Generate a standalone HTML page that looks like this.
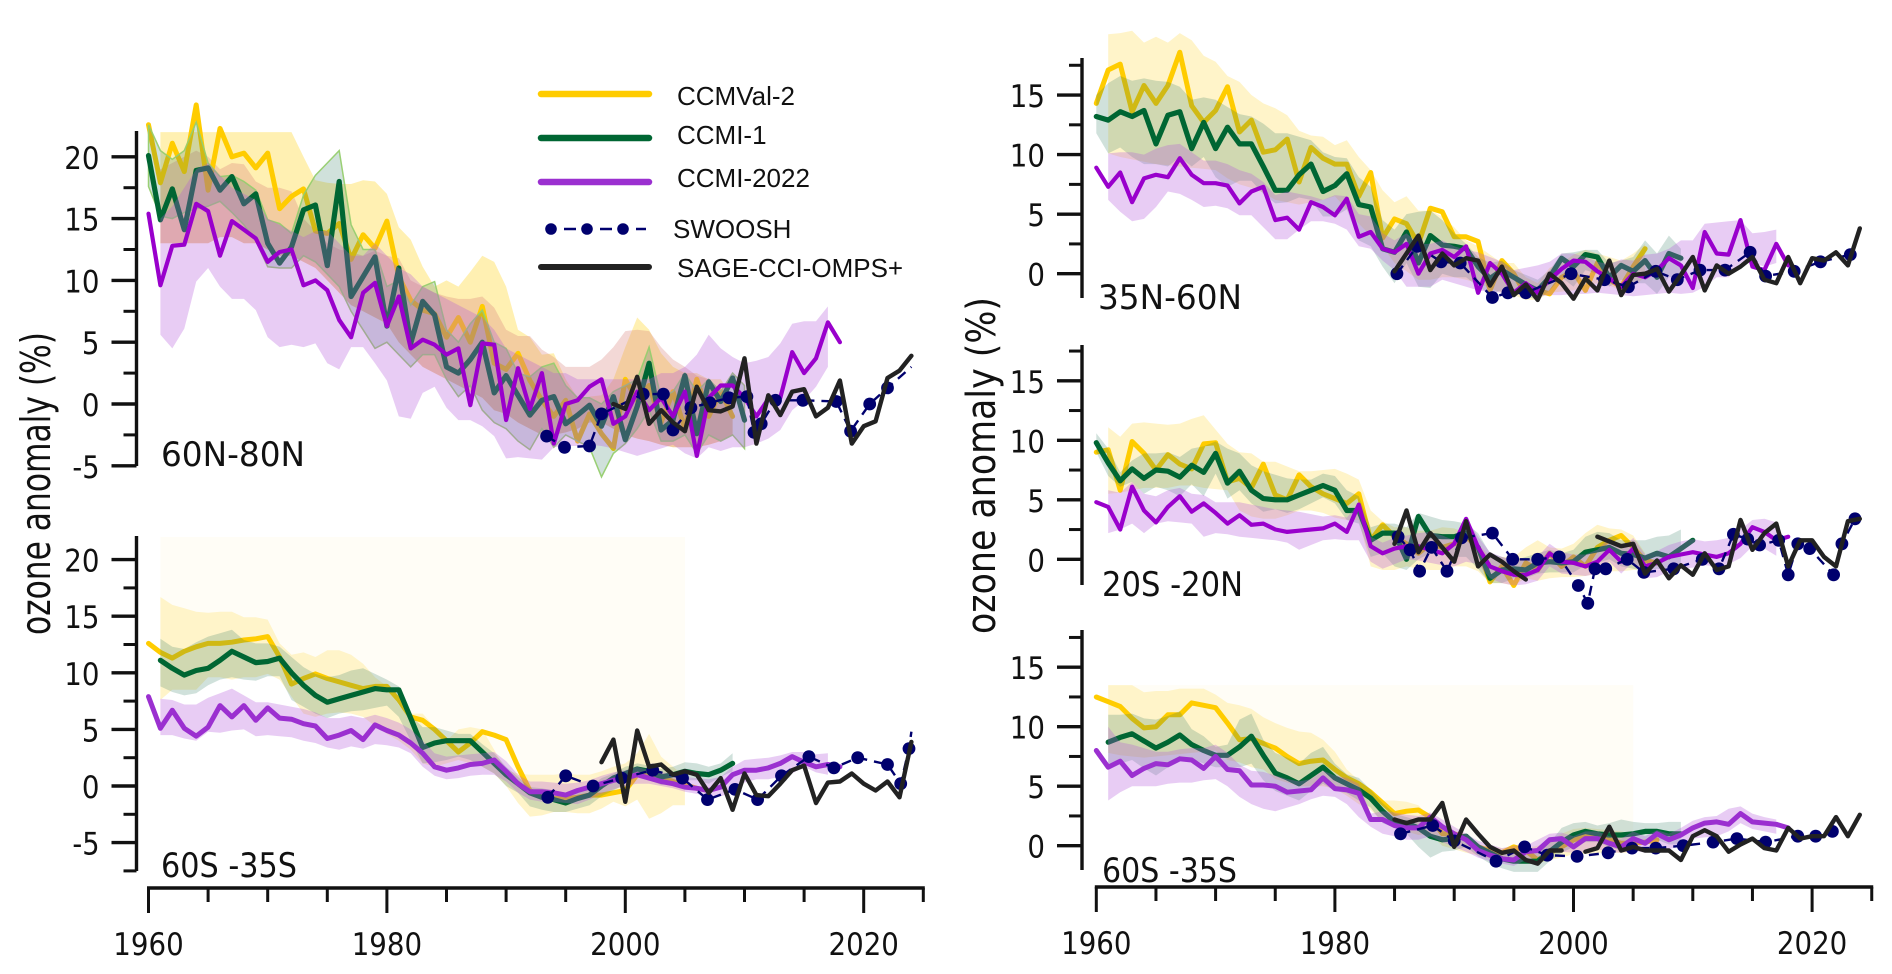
<!DOCTYPE html>
<html lang="en">
<head>
<meta charset="utf-8">
<title>Ozone anomaly time series</title>
<style>
html,body{margin:0;padding:0;background:#fff;}
svg{display:block;}
text{font-family:"Liberation Sans",sans-serif;fill:#111;}
text.dv{font-family:"DejaVu Sans",sans-serif;}
</style>
</head>
<body>
<svg id="figure" xmlns="http://www.w3.org/2000/svg" width="1892" height="974" viewBox="0 0 1892 974">
  <rect width="1892" height="974" fill="#fff"/>
  <g id="charts"></g>
  <text class="dv" transform="translate(50,635) rotate(-90)" font-size="41" textLength="303" lengthAdjust="spacingAndGlyphs">ozone anomaly (%)</text>
  <text class="dv" transform="translate(995,634) rotate(-90)" font-size="40" textLength="337" lengthAdjust="spacingAndGlyphs">ozone anomaly (%)</text>
  <g>
    <g>
      <line x1="541" x2="649" y1="94" y2="94" stroke="#ffcc00" stroke-width="6.5" stroke-linecap="round"/>
      <text x="677" y="105" font-size="26">CCMVal-2</text>
    </g>
    <g>
      <line x1="541" x2="649" y1="138" y2="138" stroke="#006633" stroke-width="6.5" stroke-linecap="round"/>
      <text x="677" y="144" font-size="26">CCMI-1</text>
    </g>
    <g>
      <line x1="541" x2="649" y1="182" y2="182" stroke="#9b30d0" stroke-width="6.5" stroke-linecap="round"/>
      <text x="677" y="187" font-size="26">CCMI-2022</text>
    </g>
    <g>
      <circle cx="551" cy="229" r="5.8" fill="#00006e"/>
      <circle cx="587" cy="229" r="5.8" fill="#00006e"/>
      <circle cx="623" cy="229" r="5.8" fill="#00006e"/>
      <line x1="564" x2="576" y1="229" y2="229" stroke="#00006e" stroke-width="2.5"/>
      <line x1="600" x2="612" y1="229" y2="229" stroke="#00006e" stroke-width="2.5"/>
      <line x1="636" x2="646" y1="229" y2="229" stroke="#00006e" stroke-width="2.5"/>
      <text x="673" y="238" font-size="26">SWOOSH</text>
    </g>
    <g>
      <line x1="541" x2="649" y1="267" y2="267" stroke="#222" stroke-width="6" stroke-linecap="round"/>
      <text x="677" y="277" font-size="26">SAGE-CCI-OMPS+</text>
    </g>
  </g>
</svg>
<script>
// ---------- shared tick data ----------
const xTickLabels = [1960, 1980, 2000, 2020];
const yTickLabelsAB = [-5, 0, 5, 10, 15, 20];
const yTickLabelsCDE = [0, 5, 10, 15];

// ---------- 60N-80N ----------
const aYellow = [22.6,17.9,21.1,18.8,24.2,17.3,22.3,20,20.3,19.1,20.3,15.8,16.8,17.4,14,13.8,14.6,11.7,13.7,12.6,14.8,10.3,8.4,7.6,7.3,5.4,7,5,7.9,3.3,2.8,4.1,1.9,.3,-1,.3,-3,-.8,-2.4,-3.6,2,.3,1.5,-1.5,1,-2,2,-1,1,-1];
const aYellowHi = [22,22,22,22,22,22,22,22,22,22,22,22,20,18.1,17.9,17.8,17.8,18.1,18,17,14.3,13.3,11.1,9.5,10,9.5,10.7,12,11.5,9.5,6,5.4,4,4.1,2,.5,.6,.7,2,4.6,7,6,4.1,3,2.5,2.5,2,2,.6];
const aPeachHi = [19,19.5,20,20.5,20,19,19.5,19.4,18,17.5,17.5,17.2,15,14,13,12.5,12.3,12,12.4,12,11.8,10,9.5,9,8.7,8.5,8.5,8.7,7.8,6,5.5,5.5,4.4,3.8,3,3,3,3.6,4.6,5.9,6,5.9,4.6,3.6,3,2.3,2,1.1,.3];
const aPeachLo = [13,13,13,13,13,13.5,13.5,13,13,12.5,12,12,11.5,11,10,9,8,7.5,7,6.5,5,4,3,2.5,2,1.5,1,.5,-.5,-.8,-1.5,-2,-2.5,-2.5,-2.3,-2,-1.5,-1.5,-2,-2.5,-2.8,-3,-3.3,-3.5,-3.5,-3.5,-3.3,-3,-2.5];
const aGreen = [20.1,14.9,17.4,14.1,18.9,19.1,17.3,18.4,16.2,17,13,11.4,12.7,15.7,16.1,11.2,18,8.7,10.3,11.9,6.3,11,4.9,8.3,7.2,3,2.5,3.6,5,.9,2.3,.7,-.9,.3,.6,-1.6,-.9,-.1,-1.8,.6,-2.9,-.2,3.3,-2.1,-1.3,2.3,-2.4,1.8,.2,2.1,-1.3];
const aGreenHi = [22.6,20.5,19.8,20.5,22.8,19.5,18.4,18.5,18,17.3,14.9,14.6,13.8,16.9,18.5,19.5,20.5,14.5,12.5,12.5,9.5,10,8,9.5,9.9,6,5,6.5,7.6,5,4.5,2.5,2.2,3,3.3,1.5,.5,.5,0,1,1.5,2,4.6,.5,1,2.5,1,2,1,2.5,1.5];
const aGreenLo = [17.6,15.2,15,15.5,15.8,16,16.4,15.5,14.5,13.2,11.1,11,11,12,11.5,10.5,9.5,7.5,6,4.5,5,4,3,4,4,2,.6,1.5,-.5,-1.5,-2,-3,-3.7,-2,-3.5,-2.5,-3,-3.5,-5.9,-4,-3.2,-2,-.5,-3,-3,-2.5,-4,-2.5,-3,-2.5,-3.6];
const aPurple = [15.4,9.6,12.8,12.9,16.2,15.6,12,14.8,14.1,13.4,11.5,12.3,12.5,9.6,10,9.2,6.8,5.4,9,9.8,6.3,8.7,4.5,5.2,4.8,4,4.5,-.1,4.9,4.8,-1.3,2.9,-.4,2.5,-3.2,0,.3,1.4,2,-1.6,-1,1,-.5,.5,-1,1,-4.2,.5,1.5,1.5,.5,-1,.4,.5,4.2,2.5,3.7,6.6,5];
const aPurpleHi = [15,16,17.5,19,19.5,18.5,17.5,17,16.5,15,14.5,14,13.5,14,14,13,12,12,13,12,11,10.5,9.5,9,8.5,8,7.5,7,6,4.5,4,3.5,3,2.5,2.5,2,2,2,2,2,2,2,2.5,2.5,3,4,5.6,4.5,3.8,3.3,3.5,3.8,4.9,6.5,6.7,6.7,7.9];
const aPurpleLo = [5.6,4.5,6.1,9.9,11,9.5,8.5,8.5,7.6,5.4,4.6,4.8,4.6,4.9,3.3,2.8,4.6,4.6,3.3,1.9,-1,-1.2,.9,1.4,-.3,-1.3,-1.3,-1.8,-2.6,-4.4,-4.3,-4.4,-4.5,-3.5,-3.4,-3.4,-3.3,-3.4,-3.6,-3.9,-4.2,-3.9,-3.6,-3.3,-4,-4.4,-3.5,-3.8,-3.5,-3.5,-3.2,-2.8,-2.1,-.5,.3,1.4,3];
const aSwooshYears = [1993.4,1994.9,1997,1998,2001.5,2003.2,2004,2005.5,2007.1,2008.7,2010.2,2010.8,2011.4,2012.6,2014.9,2017.7,2018.9,2020.5,2022,2024];
const aSwoosh = [-2.6,-3.5,-3.4,-.8,.8,.8,-2.1,-.3,.1,.5,.6,-2.3,-1.6,.3,.3,.2,-2.2,0,1.3,3];
const aSage = [0,-.4,2.2,-1.6,-.5,-1.5,-2.2,1.4,-.5,-.6,-.2,3.7,-3.2,.7,-.9,1,1.2,-1,-.3,1.9,-3.2,-1.8,-1.4,2.1,2.7,3.9];

// ---------- 60S-35S (left) ----------
const bYellow = [12.6,11.8,11.3,11.9,12.3,12.6,12.6,12.7,12.9,13,13.2,11.4,9,9.5,9.9,9.5,9.2,8.9,8.6,8.8,8.8,7.6,6.1,5.8,5,4,3,3.8,4.8,4.5,4.1,1.7,-.4,-.9,-1.1,-1.1,-1,-.8,-.8,-.6,-.4,1,1,.8,.4,.1,-.2,-.4];
const bYellowHi = [16.7,16,15.7,15.4,15.3,15.4,15.4,14.9,14.9,14.7,12.6,11.6,11.8,11.4,12,12,11.6,10.8,9.6,8.8,7.1,6.4,6.4,5.2,4,5,5.2,5,3.2,1.4,1.1,1,1,1,1.1,1,1,1.3,1.7,2,2.9,4.6,2.6,1.7,.8];
const bYellowLo = [7.6,8.5,8.5,8.5,9.6,9.6,9.4,9.6,9.6,9.9,9.4,7.9,6.4,6.1,6.4,6.5,6.4,6.1,5.3,4.6,4,3.2,2,1.7,2,2.3,2,1.7,1.1,0,-1.5,-2.7,-2.6,-2.3,-2.3,-2.4,-2.4,-2,-1.4,-1.8,-1.2,-2.9,-2.4,-1.7,-1.7];
const bGreen = [11.1,10.4,9.8,10.2,10.4,11.1,11.9,11.4,10.9,11,11.3,10,8.9,8,7.4,7.7,8,8.3,8.6,8.5,8.5,6,3.4,3.8,4,4,4,3,2,1,.2,-.6,-1,-1.2,-1.5,-1.1,-.8,0,.7,1.1,1.5,1.3,.8,1,1.3,1.1,1,1.4,2];
const bGreenHi = [13,12.3,12.1,12.7,13.2,13.5,13.8,12.9,12.6,12.6,12.3,11.4,10.5,9.9,9.6,9.8,10.2,10.4,9.9,9.4,8.8,6.2,5.2,5.2,4.9,4.6,4.6,3.7,2.9,1.7,.8,-.1,-.2,-.4,-.6,-.4,-.1,.7,1.1,1.7,2,1.8,1.5,1.7,2.1,2,1.7,2,2.9];
const bGreenLo = [8.8,8.3,8,8.2,8.9,9.4,9.6,9.4,9.3,9.7,9.7,7.6,7,6.4,6,6.4,6.6,6.7,6.9,7.1,6.1,4,2,2.1,2.3,2.6,2.3,1.7,1.1,0,-.6,-1.8,-2.1,-2.3,-2.3,-2,-1.7,-.9,-.4,.2,.8,.5,.1,.2,.5,.5,.2,.8,1.3];
const bPurple = [7.9,5.1,6.7,5.1,4.4,5.2,7.1,6.1,7.1,5.8,6.9,6,5.9,5.5,5.3,4.2,4.5,4.9,4.1,5.4,4.9,4.5,3.8,2.9,1.7,1.4,1.6,1.9,2,2.3,1.3,.2,-.5,-.5,-.6,-.8,-.4,-.1,.2,.5,.7,1,.7,.4,.2,-.1,-.2,-.4,-.1,1,1.4,1.4,1.6,2,2.6,2.1,1.7,1.9,1.7];
const bPurpleHi = [7.7,7.6,7.2,7.2,7.8,8.2,8.6,8,7.4,7.4,7.2,7,6.8,6.5,6,6,6.2,6,6.3,6,5.6,5,4,2.9,2.6,2.7,2.8,2.9,3,2.2,1,.4,.4,.3,.2,.3,.5,.9,1.2,1.4,1.7,1.4,1.2,1.1,.8,.7,.6,.8,1.7,2.3,2.4,2.5,2.7,3,3,2.8,2.9];
const bPurpleLo = [4.5,4.5,4.2,4,4.8,4.7,4.9,5,4.4,4.5,4.4,4.3,4,3.8,3.4,3.2,3.5,3.3,3.7,3.6,3.4,2.9,1.7,.9,.6,.7,.9,1,1,.4,-.6,-1.2,-1.4,-1.4,-1.5,-1.6,-1.2,-.7,-.3,0,.2,.2,0,-.2,-.5,-.7,-.9,-.9,-.6,.3,.6,.6,.8,1.1,1.7,1.2,1];
const bSwooshYears = [1993.5,1995,1997.3,1999.7,2002.3,2004.8,2006.9,2009.2,2011.1,2013.1,2015.4,2017.5,2019.5,2022,2023.1,2023.8,2024];
const bSwoosh = [-1,.9,0,.7,1.4,.7,-1.2,-.3,-1.2,.9,2.6,1.6,2.5,1.9,.2,3.3,4.8];
const bSage = [2.1,4.1,-1.4,4.9,1.7,1.9,1,1.3,1,-.6,.7,-2.1,1.1,-.8,-.9,.2,1.4,1.8,-1.5,.3,.4,1.1,.2,-.4,.4,-1,3.9];

// ---------- 35N-60N ----------
const cYellow = [14.3,17.1,17.6,13.6,15.8,14.3,15.8,18.6,14.1,12.7,13.7,15.7,11.9,12.9,10.2,10.4,11.3,7.7,10.6,9.7,9.2,9.2,6.5,8.5,3,4.6,4.2,2.5,5.5,5.2,3.1,3.1,2.7,-1.4,1.1,0,-1.8,-1.4,-1.7,-.3,.2,-1.4,.9,-.5,-1.1,.6,2.1];
const cYellowHi = [20.1,20.2,20.4,19.4,19.9,19.4,20.2,19.6,18.3,17.8,16.6,16.1,15,14.3,13.9,13.3,12,11.6,11.5,10.8,11.2,9.8,8.7,7,6,6.5,5.3,5.3,4.8,3.9,2.8,2.3,1.6,.9,.9,-.3,-.8,.5,.9,1.6,2,1.7,1.4,1.1,1.7,2.5];
const cYellowLo = [10.1,9.8,9.6,9.4,9.2,9.1,9,8.9,8.8,8.7,8,7.5,7.2,6.8,6.2,6,5.8,6,6.2,6.5,5.4,4.2,3.2,2.3,.9,.2,-.5,-.5,-.3,-.3,-.5,-.8,-1.2,-1.6,-1.8,-2.2,-2.2,-1.6,-1.5,-1.4,-1,-.8,-1,-1.4,-1,-.3];
const cGreen = [13.2,12.9,13.6,13.2,13.7,10.9,13.3,13.6,10.5,12.7,10.5,12.3,10.9,10.9,9,7,7,8.3,9.2,6.9,7.4,8.4,5.8,5.6,2.1,1.8,3.5,.9,3.2,2.4,2.3,2.1,.6,-.4,.3,-.3,-.9,-1.4,-.3,1.3,.6,1.6,1.4,-.3,.7,.2,1.1,-.3,1.7,1.3];
const cGreenHi = [15,16,16.6,16.2,16.4,16.2,16.1,15.7,14.6,14.8,14.6,14,13.4,13.2,12.6,11.8,11.8,11.5,11.2,10.2,9.8,9.7,8.1,7.3,4.5,3.7,5,5.2,5.3,4.5,3.4,2.5,1.4,.9,1.1,.3,-.1,-.5,.3,1.7,1.8,2,2,.9,1.1,1.4,2.8,1.7,3.2,2.1];
const cGreenLo = [11.8,10.1,10.6,9.8,9.2,9.2,9,9.8,9,9.8,8.1,7.3,7.8,7.8,6.7,5.9,6,6.4,6.2,4.8,4.8,5.4,2.8,2.3,.6,-.8,.9,-1.1,-1.2,0,-.3,-.3,-1.1,-1.7,-1.4,-1.7,-1.9,-2.2,-1.4,-.3,-1.1,.3,0,-1.1,-.5,-.8,-.8,-1.7,-.3,-.3];
const cPurple = [8.9,7.3,8.5,6,8,8.3,8.1,9.7,8.3,7.6,7.6,7.4,5.9,6.9,7.3,4.5,4.7,3.7,6,5.6,4.9,6.3,3.1,3.5,2.1,1.8,2.5,0,1.7,2,1.4,2.3,-1.6,.9,0,-1.6,-.8,-1.6,-.5,.4,1.1,1,.2,-.4,-1.1,0,-.3,.3,1.3,.7,-1.2,3.5,1.7,1.6,4.5,.6,.3,2.5,.7];
const cPurpleHi = [10.1,10.2,10.2,10,10.5,10.8,10.9,10.2,9.5,9.5,9.2,8.7,8.4,7.7,6.6,6.9,6.7,6.5,6.2,6.6,6.5,5,4.8,3.4,2.8,3.4,2.5,2.5,2.8,2.3,2,1.8,1.4,1,.3,.5,.7,1,1.7,1.7,1.4,1,.8,1.2,1.1,1.6,1.7,2.1,2.8,2.8,4.2,4.3,4.4,4.5,3.4,3.5,3.7];
const cPurpleLo = [6.2,5.2,4.4,4.6,5.6,6.9,6.7,6.2,5.6,5.7,5.5,4.9,4.9,3.9,2.9,2.9,3.7,4.4,4.4,4.2,3.7,2.3,2.1,1.1,.3,-1.1,-1.1,-1.1,-.5,-.8,-1.1,-1.4,-1.5,-1.6,-1.7,-1.8,-1.9,-1.8,-1.8,-1.7,-1.7,-1.6,-1.7,-1.8,-1.9,-1.8,-1.7,-1.6,-1.7,-1.6,-1.1,-.3,-.3,.9,.9,.6,.9];
const cSwooshYears = [1985.2,1986.9,1988.9,1990.5,1993.2,1994.5,1996,1999.8,2002.6,2004.6,2006.9,2008.7,2010.6,2012.7,2014.8,2016.1,2018.5,2020.7,2023.2];
const cSwoosh = [0,2.3,1,.9,-2,-1.6,-1.6,0,-.5,-1.1,.2,-.5,.3,.3,1.8,-.2,.2,1,1.6];
const cSage = [.2,1.7,3.2,.3,1.7,.7,1.3,1.1,-1,.6,-1.8,-.9,-2.2,0,-.8,-2.1,-.4,-1.4,1.1,-1.8,-.1,0,.4,-1.5,-.1,1.4,-1.4,.7,0,.6,1.4,-.5,-.8,1.4,-.8,1.3,1.1,1.8,.7,3.8];

// ---------- 20S-20N ----------
const dYellow = [9,9.2,5.8,9.9,8.9,7.5,8.8,8,7.6,9.7,9.8,6.5,6.8,6,8,5.4,5,7.1,6.1,5.5,5.1,4.7,5.5,1.6,2.9,1.9,1.3,.5,1.3,1,1.3,1.9,1,-1.9,-.6,-2.2,-.3,-.9,.5,-.6,.2,-.6,1,1.6,2,1,-.1,-.3];
const dYellowHi = [11.1,10.3,11.4,11.5,11.4,11.3,11.4,11.8,12.1,10.9,9.7,9,8.9,8.2,8.2,7.8,7.4,7.4,7.5,7.6,7.2,6.7,4.1,3.2,2.7,2.7,2.4,2.4,2.7,2.6,2.2,1.3,.2,.2,.2,1,1.6,1,.9,1.3,2.2,2.9,2.6,2.5,2,.5];
const dYellowLo = [5.5,5.6,5.8,6,6,6,6.2,6.2,6,5.9,5.8,4.1,3.6,3.4,3.4,3.7,4.1,4.1,3.9,3.5,3.3,3.3,-.6,-.9,-.9,-.6,-.8,-.9,-.9,-.6,-.6,-1,-2,-2,-2.2,-1.6,-1.8,-1.6,-1.5,-1.5,-1.4,-1.2,-1,-1,-.9,-.8];
const dGreen = [9.8,8.1,6.6,7.6,6.8,7.5,7.4,6.9,7.9,7.3,8.9,6.4,7.4,5.8,5.1,5,5,5.4,5.8,6.2,5.8,4.1,4.1,1.6,2.2,2.2,0,3.6,2,1.9,1.9,2.2,1,-1.6,-.9,-.8,-.9,-.3,-.2,-.3,-.2,.6,.8,1,.5,.4,.1,.5,.2,.9,1.6];
const dGreenHi = [10.6,9.3,7.3,8.3,8.9,8.9,9,8.6,9.3,9.5,9.9,9.3,8.9,7.9,7.4,7.1,6.8,6.7,6.7,7.2,7,5.8,5.3,2.7,3,3,2.7,3.9,3.6,3.3,3.2,3,2.2,.5,.2,-.1,.2,.5,.8,.5,.8,1.9,2.3,2.2,1.6,1.6,1.6,1.9,2,2.5];
const dGreenLo = [9,7,6.1,6.5,5.5,6.1,5.8,5.3,6.3,5.3,7.2,5.1,5.8,4.7,4,4.2,3.9,4.2,4.7,5.2,4.7,3.3,3,.2,.5,-.6,-.9,0,.5,.5,.2,.2,-.8,-2,-2,-1.6,-1.6,-1.2,-1.1,-1.1,-1.1,-.5,-.3,0,-.6,-.8,-1,-.8,-.9,-.3];
const dPurple = [4.8,4.4,2.5,6.1,4.1,3.1,4.4,5.3,4,4.7,3.9,3,3.7,2.9,3,2.5,2.3,2.4,2.5,2.6,3,2.3,4.6,1.1,.5,.9,1.1,1.1,.8,.5,1.3,3.4,1,-.6,-1,-1.3,-1.3,-.9,.5,-.2,-.3,-.6,-.2,.8,-.2,.9,-.6,-.3,.2,.4,.6,.4,.2,.5,1.3,2.7,2.3,1.6,1.9];
const dPurpleHi = [5.8,5.6,6.5,5.5,5.3,5.8,6,5.5,5.4,4.8,4.8,4.8,4.6,4.4,4.2,4.1,4,3.8,3.6,3.7,3.5,4.7,1.9,1.4,1.8,2,2.2,2.3,2,1.6,3.5,1.9,.6,.2,-.1,-.1,.2,1.3,.6,.4,.4,.8,1.8,.8,1.8,.4,.7,1.2,1.5,1.7,1.5,1.6,1.8,2.5,3.3,3.4,3.1];
const dPurpleLo = [2.2,2.5,3,2.2,3,3.2,3.1,3,1.9,2.2,2.1,1.9,1.8,1.7,1.6,1.4,.8,1.2,1.6,1.7,1.6,1.6,-.2,-.8,-.4,0,-.1,-.3,-.5,-.6,-.2,-.4,-1.6,-2,-2.2,-2.1,-1.8,-.6,-1.2,-1.3,-1.4,-1.2,-.2,-1.2,-.2,-1.6,-1.5,-1,-.8,-.7,-.5,-.6,-.4,.1,1.1,.9,.3];
const dSwooshYears = [1985.3,1986.3,1987.1,1988.1,1989.4,1990.6,1993.2,1994.9,1997,1998.8,2000.4,2001.2,2001.8,2002.7,2004.5,2005.9,2008.4,2010.8,2012.2,2013.4,2014.6,2015.6,2017.2,2018,2018.8,2019.8,2021.8,2022.5,2023.6];
const dSwoosh = [1.9,.8,-1,1,-1,1.8,2.2,0,0,.2,-2.2,-3.7,-.8,-.8,0,-1.1,-.8,0,-.8,2.1,1.7,1.2,1.6,-1.3,1.3,.9,-1.3,1.3,3.4];
const dSage = [1.3,4.1,.6,2.2,1,-.2,3.2,-.6,.4,-.2,-1,-1.7,null,null,null,null,null,1.9,1.5,1.1,1.3,-1.2,-.1,-1.6,-.5,-1.3,.5,-.9,-.6,3.3,.8,2.2,3,-.6,1.6,1.6,.2,-.6,3.2,3.4];

// ---------- 60S-35S (right) ----------
const eYellow = [12.5,12.1,11.7,10.7,9.9,10,11,11,12,11.8,11.6,10.3,8.9,9,8.6,8.2,7.5,6.9,7.1,7.2,6.4,5.7,5.2,4.5,3.6,2.7,2.9,3,2.4,1,1,.7,-.1,-.4,-.6,-.1,-.4,-1.2,-.6,-.1,.5,.8,.8,.5,.2,.2,.3,.5];
const eYellowHi = [13.5,13.5,13.5,12.9,13,13,13.2,13.2,13.2,12.7,12,11.8,11.5,10.8,10.3,9.9,9.6,9.5,8.9,7.9,6.4,5.5,4.7,3.8,3.8,3.7,3.4,2.4,1.6,1,.3,0,-.1,-.2,-.1,-.2,0,.4,1,1.4,1.5,1.4,1.3,1.2,1];
const eYellowLo = [7.8,7.6,7.5,7.4,7.5,7.6,7.7,7.8,7.9,8,7.2,7,6.6,6.4,5.6,5.3,5,5,5,4.8,4.2,3.5,3,2,1.9,1.2,.9,1,0,-.3,-.6,-.8,-1.1,-1.2,-1,-1.2,-1.5,-1.2,-1,-.7,-.7,-.6,-.6,-.6,-.6];
const eGreen = [8.7,9.1,9.4,8.8,8.2,8.7,9.3,8.5,8,7.6,7.6,8.3,9.2,7.6,6.1,5.7,5.2,5.9,6.6,5.7,5.2,4.7,4,2.9,2,1.9,1.5,.8,.5,.6,.8,-.1,-.6,-1.1,-1.3,-1.3,-1.3,-.5,.3,.9,1.2,1,.9,.9,1,1.2,1.2,1,1];
const eGreenHi = [11,11,11.1,10.7,10.6,10.9,11.3,9.8,9.2,8.3,8.5,10.6,11.1,8.9,7.8,7.4,6.9,7.8,8.3,6.9,6,5.7,4.7,3.6,2.7,2.4,2.1,1.9,1.3,1,1,.2,-.4,-.4,-.6,-.4,-.4,.2,1.5,1.9,2,1.7,1.9,2.2,2,1.9,1.9,2,2];
const eGreenLo = [6.9,6.9,7.2,6.5,5.9,6.6,7.2,7.3,6.9,6.6,6.6,6.6,6.9,5.5,4.6,4.2,3.8,4.6,5.2,4.6,4.4,3.8,3.2,1.9,1.5,1,-.1,-1,-.5,-.4,-.1,-.9,-1.5,-1.9,-2.2,-2.2,-2.2,-1.3,-.6,-.1,.3,.3,-.1,-.4,.1,.3,.5,.1,.1];
const ePurple = [8,6.6,7.1,5.9,6.5,6.9,6.8,7.3,7.2,6.5,7.5,6.4,6.3,5.1,5.1,5,4.5,4.6,4.7,5.7,4.8,4.7,4.4,2.2,2.2,1.7,1.5,1.5,2.4,1.6,1,.5,-.4,-.8,-1.1,-1.2,-.5,-.4,.5,.6,-.1,.6,.6,.2,-.1,.6,.2,1,.5,.9,1.5,1.9,2,1.8,2.7,2,1.9,1.8,1.5];
const ePurpleHi = [10,8.7,8.5,8.2,7.9,7.9,8.1,8.2,8.2,8.5,7.8,6.8,6.3,6.2,5.9,5.6,5.4,5.6,6.3,5.9,5.7,5.2,2.7,2.9,2.8,2.6,2.5,2.8,2.2,1.6,1,.4,.1,-.2,0,0,.5,1,1.1,.8,1.2,1.2,.8,.6,1.2,.8,1.3,1,1.5,2.1,2.4,2.5,3.1,3.3,2.7,2.4,2.2];
const ePurpleLo = [3.8,4.5,5,5,5,5.2,5.3,5.3,5.5,5.6,5,4.1,3.5,3.1,2.9,3.2,3.5,3.9,4.2,4.1,3.5,2.4,1.6,1,.8,.5,.5,.8,.3,-.1,-.5,-1,-1.3,-1.5,-1.7,-1.2,-1,-.6,-.5,-.6,-.5,-.3,-.5,-.6,-.4,-.6,-.3,-.3,0,.6,.7,.8,1.2,1.9,1.4,1.2,1];
const eSwooshYears = [1985.5,1988.2,1990,1993.5,1995.9,1997.8,2000.3,2002.9,2004.9,2006.9,2009.2,2011.7,2013.7,2016.1,2018.8,2020.3,2021.7];
const eSwoosh = [1,1.7,.4,-1.3,-.1,-.8,-.9,-.6,-.2,-.2,0,.3,.6,.3,.8,.8,1.2];
const eSage = [2.2,1.9,2.2,2.2,3.6,-.1,2.2,1,-.1,-.6,-.4,-1.2,-1.5,-.4,-.4,null,-.5,-.2,1.6,-.4,-.1,-.4,-.4,-.4,-1.2,.8,1.3,.8,-.5,.1,.6,-.2,-.4,1.5,.6,.8,.8,2.4,.8,2.6];

// ---------- rendering ----------
const NS = 'http://www.w3.org/2000/svg';
const COLORS = {yellow:'#ffcc00', green:'#006633', navy:'#00006e', black:'#222222'};
const root = document.getElementById('charts');

function mk(parent, tag, attrs) {
  const el = document.createElementNS(NS, tag);
  Object.keys(attrs).forEach(function (k) { el.setAttribute(k, attrs[k]); });
  parent.appendChild(el);
  return el;
}
function linePath(startYear, values, xs, ys) {
  let d = '', pen = false;
  values.forEach(function (v, i) {
    if (v === null) { pen = false; return; }
    d += (pen ? 'L' : 'M') + xs(startYear + i).toFixed(1) + ' ' + ys(v).toFixed(1);
    pen = true;
  });
  return d;
}
function drawBand(g, startYear, hi, lo, xs, ys, fill, stroke, name) {
  const top = hi.map(function (v, i) { return xs(startYear + i).toFixed(1) + ',' + ys(v).toFixed(1); });
  const bot = lo.map(function (v, i) { return xs(startYear + i).toFixed(1) + ',' + ys(v).toFixed(1); }).reverse();
  const el = mk(g, 'polygon', {points: top.concat(bot).join(' '), fill: fill, stroke: stroke || 'none', 'stroke-width': stroke ? 1.5 : 0});
  
  
}
function drawPale(g, startYear, hi, topValue, xs, ys, name) {
  const top = hi.map(function (v, i) { return xs(startYear + i).toFixed(1) + ',' + ys(topValue).toFixed(1); });
  const bot = hi.map(function (v, i) { return xs(startYear + i).toFixed(1) + ',' + ys(v).toFixed(1); }).reverse();
  const el = mk(g, 'polygon', {points: top.concat(bot).join(' '), fill: '#fffdf6'});
  
  
}
function drawLine(g, startYear, values, xs, ys, color, width, name) {
  const el = mk(g, 'path', {d: linePath(startYear, values, xs, ys), fill: 'none', stroke: color, 'stroke-width': width, 'stroke-linejoin': 'round', 'stroke-linecap': 'round'});
  
  
}
function drawSwoosh(g, years, values, xs, ys, openTail) {
  let d = '';
  years.forEach(function (yr, i) { d += (i ? 'L' : 'M') + xs(yr).toFixed(1) + ' ' + ys(values[i]).toFixed(1); });
  const ln = mk(g, 'path', {d: d, fill: 'none', stroke: COLORS.navy, 'stroke-width': 2.4, 'stroke-dasharray': '10 7'});
  
  
  const n = openTail ? years.length - 1 : years.length;
  for (let i = 0; i < n; i++) {
    const c = mk(g, 'circle', {cx: xs(years[i]).toFixed(1), cy: ys(values[i]).toFixed(1), r: 6.4, fill: COLORS.navy});
    
    
  }
}
function labelWidth(str) {
  const neg = str.charAt(0) === '-';
  return (neg ? str.length - 1 : str.length) * 17.6 + (neg ? 9.5 : 0);
}
function drawYAxis(g, p) {
  const axis = mk(g, 'line', {x1: p.axisX, x2: p.axisX, y1: p.axisTop, y2: p.axisBottom, stroke: '#111', 'stroke-width': 3.4});
  
  
  p.minor.forEach(function (v) {
    const t = mk(g, 'line', {x1: p.axisX - 13, x2: p.axisX, y1: p.ys(v), y2: p.ys(v), stroke: '#111', 'stroke-width': 3});
    
    
  });
  p.labels.forEach(function (v) {
    const t = mk(g, 'line', {x1: p.axisX - 25, x2: p.axisX, y1: p.ys(v), y2: p.ys(v), stroke: '#111', 'stroke-width': 3.4});
    
    
    const str = String(v);
    const lab = mk(g, 'text', {'class': 'dv', x: p.axisX - 37, y: p.ys(v) + 12, 'text-anchor': 'end', 'font-size': 31, textLength: labelWidth(str), lengthAdjust: 'spacingAndGlyphs'});
    
    
    lab.textContent = str;
  });
}
function drawXAxis(g, xs, y) {
  const axis = mk(g, 'line', {x1: xs(1960) - 1.5, x2: xs(2025) + 1.5, y1: y, y2: y, stroke: '#111', 'stroke-width': 3.4});
  
  
  for (let yr = 1960; yr <= 2025; yr += 5) {
    const major = xTickLabels.indexOf(yr) >= 0;
    const t = mk(g, 'line', {x1: xs(yr), x2: xs(yr), y1: y, y2: y + (major ? 25 : 14), stroke: '#111', 'stroke-width': 3});
    
    
  }
  xTickLabels.forEach(function (yr) {
    const str = String(yr);
    const lab = mk(g, 'text', {'class': 'dv', x: xs(yr), y: y + 67, 'text-anchor': 'middle', 'font-size': 31, textLength: labelWidth(str), lengthAdjust: 'spacingAndGlyphs'});
    
    
    lab.textContent = str;
  });
}
function xLeft(yr) { return 148.5 + (yr - 1960) * 11.92; }
function xRight(yr) { return 1096.3 + (yr - 1960) * 11.93; }
function yScale(zeroPx, pxPerUnit) { return function (v) { return zeroPx - v * pxPerUnit; }; }

function drawPanel(p) {
  const g = mk(root, 'g', {});
  
  
  const xs = p.xs, ys = p.ys;
  if (p.paleTop !== undefined) drawPale(g, 1961, p.yellowHi, p.paleTop, xs, ys, 'pale-background-band');
  drawBand(g, 1961, p.yellowHi, p.yellowLo, xs, ys, p.yellowBand, null, 'ccmval-2-band');
  if (p.peachHi) drawBand(g, 1961, p.peachHi, p.peachLo, xs, ys, 'rgba(215,127,120,0.3)', null, 'ccmval-2-inner-band');
  drawLine(g, 1960, p.yellow, xs, ys, COLORS.yellow, 5, 'ccmval-2-line');
  drawBand(g, p.greenBandStart, p.greenHi, p.greenLo, xs, ys, 'rgba(40,120,90,0.22)', p.greenEdge, 'ccmi-1-band');
  drawLine(g, p.greenStart, p.green, xs, ys, COLORS.green, 5.2, 'ccmi-1-line');
  drawBand(g, 1961, p.purpleHi, p.purpleLo, xs, ys, 'rgba(178,85,218,0.3)', null, 'ccmi-2022-band');
  drawLine(g, 1960, p.purple, xs, ys, p.purpleColor, p.purpleWidth, 'ccmi-2022-line');
  drawSwoosh(g, p.swooshYears, p.swoosh, xs, ys, p.openTail);
  drawLine(g, p.sageStart, p.sage, xs, ys, COLORS.black, 4.4, 'sage-cci-omps-line');
  drawYAxis(g, p);
  const lab = mk(g, 'text', {'class': 'dv', x: p.labelX, y: p.labelY, 'font-size': 33.5, textLength: p.labelW, lengthAdjust: 'spacingAndGlyphs'});
  
  
  lab.textContent = p.label;
  if (p.xAxisY) drawXAxis(g, xs, p.xAxisY);
}

drawPanel({name:'panel-60n-80n', label:'60N-80N', labelX:161, labelY:466, labelW:144, xs:xLeft, ys:yScale(404,12.36),
  axisX:136.5, axisTop:131, axisBottom:466, labels:yTickLabelsAB, minor:[-2.5,2.5,7.5,12.5,17.5],
  yellowBand:'rgba(255,204,0,0.3)', yellow:aYellow, yellowHi:aYellowHi, yellowLo:aPeachLo, peachHi:aPeachHi, peachLo:aPeachLo,
  green:aGreen, greenStart:1960, greenBandStart:1960, greenHi:aGreenHi, greenLo:aGreenLo, greenEdge:'rgba(150,205,110,0.95)',
  purpleColor:'#9900cc', purpleWidth:4.2, purple:aPurple, purpleHi:aPurpleHi, purpleLo:aPurpleLo, swooshYears:aSwooshYears, swoosh:aSwoosh, openTail:true, sage:aSage, sageStart:1999});

drawPanel({name:'panel-60s-35s-left', label:'60S -35S', labelX:161, labelY:877, labelW:136, xs:xLeft, ys:yScale(786,11.32),
  axisX:136.5, axisTop:536, axisBottom:871, labels:yTickLabelsAB, minor:[-7.5,-2.5,2.5,7.5,12.5,17.5], xAxisY:888,
  paleTop:22, yellowBand:'rgba(255,204,0,0.21)', yellow:bYellow, yellowHi:bYellowHi, yellowLo:bYellowLo,
  green:bGreen, greenStart:1961, greenBandStart:1961, greenHi:bGreenHi, greenLo:bGreenLo,
  purpleColor:'#9b30d0', purpleWidth:5, purple:bPurple, purpleHi:bPurpleHi, purpleLo:bPurpleLo, swooshYears:bSwooshYears, swoosh:bSwoosh, openTail:true, sage:bSage, sageStart:1998});

drawPanel({name:'panel-35n-60n', label:'35N-60N', labelX:1098, labelY:309, labelW:144, xs:xRight, ys:yScale(273.7,11.91),
  axisX:1082, axisTop:58, axisBottom:298, labels:yTickLabelsCDE, minor:[2.5,7.5,12.5,17.5],
  yellowBand:'rgba(255,204,0,0.21)', yellow:cYellow, yellowHi:cYellowHi, yellowLo:cYellowLo,
  green:cGreen, greenStart:1960, greenBandStart:1960, greenHi:cGreenHi, greenLo:cGreenLo,
  purpleColor:'#9900cc', purpleWidth:4.2, purple:cPurple, purpleHi:cPurpleHi, purpleLo:cPurpleLo, swooshYears:cSwooshYears, swoosh:cSwoosh, openTail:false, sage:cSage, sageStart:1985});

drawPanel({name:'panel-20s-20n', label:'20S -20N', labelX:1102, labelY:596, labelW:141, xs:xRight, ys:yScale(559.3,11.9),
  axisX:1082, axisTop:345, axisBottom:585, labels:yTickLabelsCDE, minor:[2.5,7.5,12.5,17.5],
  yellowBand:'rgba(255,204,0,0.21)', yellow:dYellow, yellowHi:dYellowHi, yellowLo:dYellowLo,
  green:dGreen, greenStart:1960, greenBandStart:1960, greenHi:dGreenHi, greenLo:dGreenLo,
  purpleColor:'#9900cc', purpleWidth:4.2, purple:dPurple, purpleHi:dPurpleHi, purpleLo:dPurpleLo, swooshYears:dSwooshYears, swoosh:dSwoosh, openTail:false, sage:dSage, sageStart:1985});

drawPanel({name:'panel-60s-35s-right', label:'60S -35S', labelX:1102, labelY:882, labelW:135, xs:xRight, ys:yScale(845.7,11.9),
  axisX:1082, axisTop:630, axisBottom:870, labels:yTickLabelsCDE, minor:[2.5,7.5,12.5,17.5], xAxisY:887,
  paleTop:13.5, yellowBand:'rgba(255,204,0,0.21)', yellow:eYellow, yellowHi:eYellowHi, yellowLo:eYellowLo,
  green:eGreen, greenStart:1961, greenBandStart:1961, greenHi:eGreenHi, greenLo:eGreenLo,
  purpleColor:'#9b30d0', purpleWidth:5, purple:ePurple, purpleHi:ePurpleHi, purpleLo:ePurpleLo, swooshYears:eSwooshYears, swoosh:eSwoosh, openTail:false, sage:eSage, sageStart:1985});
</script>
</body>
</html>
